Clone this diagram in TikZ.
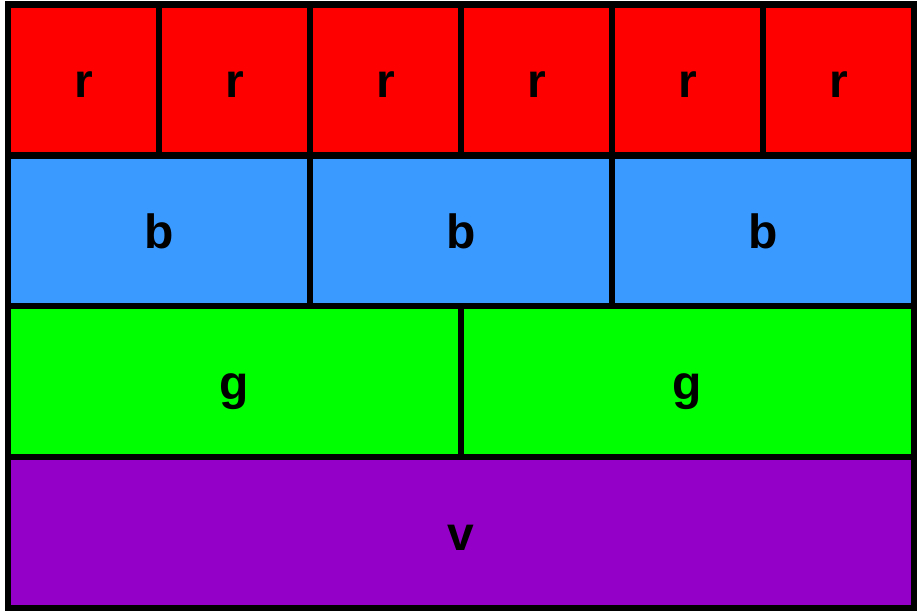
\documentclass[tikz,border=0pt]{standalone}
\usepackage{fontspec}
\setmainfont{Liberation Sans}
\definecolor{cred}{HTML}{FF0000}
\definecolor{cblue}{HTML}{3A9AFF}
\definecolor{cgreen}{HTML}{00FF00}
\definecolor{cviolet}{HTML}{9500C8}
\begin{document}
\begin{tikzpicture}[x=1pt,y=-1pt,
  cell/.style={draw=black, line width=6.3pt, rectangle, inner sep=0pt, outer sep=0pt,
    minimum height=150.9pt, text height=36pt, text depth=0pt,
    font=\fontsize{48}{48}\selectfont\bfseries},
  rcell/.style={cell, fill=cred, minimum width=151pt},
  bcell/.style={cell, fill=cblue, minimum width=302pt},
  gcell/.style={cell, fill=cgreen, minimum width=453pt},
  vcell/.style={cell, fill=cviolet, minimum width=906pt}]
\useasboundingbox (0,0) rectangle (917,610);
\foreach \i in {0,...,5} {
  \node[rcell] (r\i) at ({8+75.5+151*\i}, {4.5+75.45}) {r};
}
\foreach \i in {0,1,2} {
  \node[bcell] (b\i) at ({8+151+302*\i}, {4.5+150.9+75.45}) {b};
}
\foreach \i in {0,1} {
  \node[gcell] (g\i) at ({8+226.5+453*\i}, {4.5+301.8+75.45}) {g};
}
\node[vcell] (v0) at (461, {4.5+452.7+75.45}) {v};
\end{tikzpicture}
\end{document}
